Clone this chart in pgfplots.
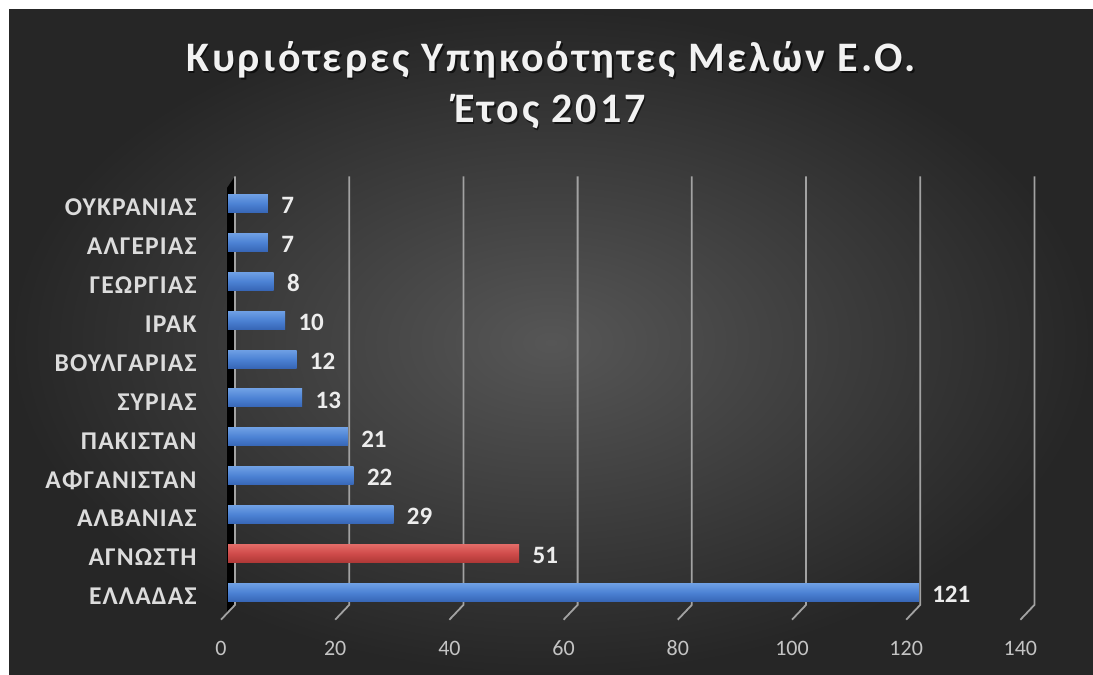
\documentclass[border=0pt]{standalone}
\usepackage{fontspec}
\setmainfont{Carlito}
\newfontfamily\titlefont[LetterSpace=6.9]{Carlito}
\newfontfamily\catfont[LetterSpace=4.5]{Carlito}
\usepackage{pgfplots}
\pgfplotsset{compat=1.18}
\definecolor{bgin}{HTML}{565656}
\definecolor{bgout}{HTML}{262626}
\definecolor{gridc}{HTML}{A2A2A2}
\definecolor{tickc}{HTML}{C4C4C4}
\definecolor{labc}{HTML}{DCDCDC}
\definecolor{labw}{HTML}{EDEDED}
\definecolor{bluetop}{HTML}{6E9FE4}
\definecolor{bluemid}{HTML}{4C82D4}
\definecolor{bluebot}{HTML}{3766B6}
\definecolor{redtop}{HTML}{E36A66}
\definecolor{redmid}{HTML}{CF4B4A}
\definecolor{redbot}{HTML}{AE3836}
\pgfplotsset{
  bluebar/.style={draw=none, top color=bluetop, bottom color=bluebot, middle color=bluemid},
  redbar/.style={draw=none, top color=redtop, bottom color=redbot, middle color=redmid},
}
\begin{document}
\begin{tikzpicture}
\useasboundingbox (0,0) rectangle (546.5pt,337.5pt);
\fill[white] (0,0) rectangle (546.5pt,337.5pt);
\shade[inner color=bgin, outer color=bgout] (4.5pt,0) rectangle (546.5pt,332.5pt);
% title with shadow
\node[anchor=base, text=black, opacity=0.6, font=\fontsize{21pt}{24pt}\titlefont\bfseries] at (276.3pt,300.8pt) {Κυριότερες Υπηκοότητες Μελών Ε.Ο.};
\node[anchor=base, text=white!95!black, font=\fontsize{21pt}{24pt}\titlefont\bfseries] at (275.5pt,301.5pt) {Κυριότερες Υπηκοότητες Μελών Ε.Ο.};
\node[anchor=base, text=black, opacity=0.6, font=\fontsize{21pt}{24pt}\titlefont\bfseries] at (275.8pt,275.3pt) {Έτος 2017};
\node[anchor=base, text=white!95!black, font=\fontsize{21pt}{24pt}\titlefont\bfseries] at (275pt,276pt) {Έτος 2017};
\begin{axis}[
  at={(114pt,27.65pt)}, anchor=south west, scale only axis,
  width=399.7pt, height=221.7pt,
  xmin=0, xmax=140, ymin=-0.7, ymax=10.7,
  axis line style={draw=none}, major tick length=0pt,
  xtick={0,20,...,140}, ytick={0,...,10},
  yticklabels={ΕΛΛΑΔΑΣ,ΑΓΝΩΣΤΗ,ΑΛΒΑΝΙΑΣ,ΑΦΓΑΝΙΣΤΑΝ,ΠΑΚΙΣΤΑΝ,ΣΥΡΙΑΣ,ΒΟΥΛΓΑΡΙΑΣ,ΙΡΑΚ,ΓΕΩΡΓΙΑΣ,ΑΛΓΕΡΙΑΣ,ΟΥΚΡΑΝΙΑΣ},
  /pgf/number format/assume math mode=true,
  xticklabel style={font=\fontsize{11pt}{13pt}\selectfont, text=tickc, anchor=center, yshift=-14.2pt, xshift=-3.5pt},
  yticklabel style={font=\fontsize{12.8pt}{14pt}\catfont\bfseries, text=labc, anchor=east, inner sep=0pt, xshift=-15.5pt, yshift=-2pt},
  xbar, bar width=9pt, bar shift=0pt,
  clip=false,
  nodes near coords={\pgfmathprintnumber{\pgfplotspointmeta}},
  every node near coord/.append style={font=\fontsize{12.5pt}{14pt}\selectfont\bfseries, text=labw, anchor=west, inner sep=0pt, xshift=6.5pt, yshift=-1pt},
]
\fill[black] ([xshift=-0.5pt]axis cs:0,10.4) -- ([xshift=3.5pt]axis cs:0,10.7) -- ([xshift=3.5pt]axis cs:0,-0.32) -- ([xshift=-0.5pt]axis cs:0,-0.5) -- cycle;
\pgfplotsinvokeforeach{0,20,40,60,80,100,120,140}{
  \draw[gridc, line width=0.9pt] ([xshift=3.5pt]axis cs:#1,10.7) -- ([xshift=3.5pt]axis cs:#1,-0.32) -- ([xshift=-3.5pt]axis cs:#1,-0.7);
}
\addplot[bluebar] coordinates {(121,0)};
\addplot[redbar] coordinates {(51,1)};
\addplot[bluebar] coordinates {(29,2)};
\addplot[bluebar] coordinates {(22,3)};
\addplot[bluebar] coordinates {(21,4)};
\addplot[bluebar] coordinates {(13,5)};
\addplot[bluebar] coordinates {(12,6)};
\addplot[bluebar] coordinates {(10,7)};
\addplot[bluebar] coordinates {(8,8)};
\addplot[bluebar] coordinates {(7,9)};
\addplot[bluebar] coordinates {(7,10)};
\end{axis}
\end{tikzpicture}
\end{document}
